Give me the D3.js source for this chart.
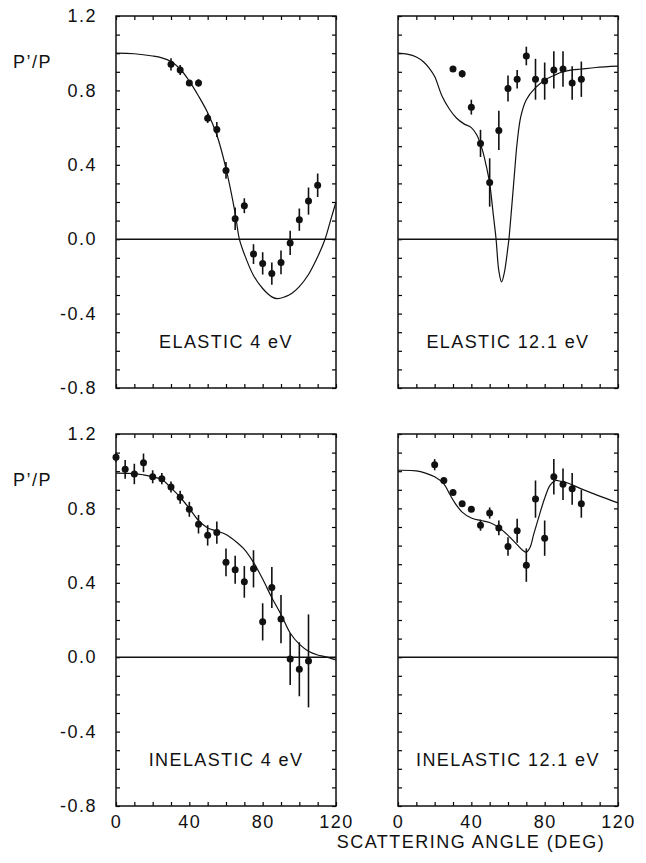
<!DOCTYPE html>
<html>
<head>
<meta charset="utf-8">
<script src="https://cdn.jsdelivr.net/npm/d3@7"></script>
<style>
  body { margin: 0; background: #fff; }
  text { font-family: "Liberation Sans", Arial, sans-serif; fill: #111; }
</style>
</head>
<body>
<div id="container"></div>
<script>

// Elastic 4 eV: measured points and theory curve
const el4Angle = [30, 35, 40, 45, 50, 55, 60, 65, 70, 75, 80, 85, 90, 95, 100, 105, 110];
const el4Value = [0.94, 0.91, 0.84, 0.84, 0.65, 0.59, 0.37, 0.11, 0.18, -0.08, -0.13, -0.185, -0.125, -0.02, 0.105, 0.205, 0.29];
const el4Error = [0.033, 0.027, 0.015, 0.02, 0.025, 0.04, 0.045, 0.06, 0.04, 0.053, 0.06, 0.06, 0.064, 0.065, 0.06, 0.073, 0.063];
const el4CurveAngle = [0, 10, 20, 25, 30, 35, 40, 45, 50, 55, 60, 65, 67.3, 70, 75, 80, 85, 88, 92, 96, 100, 105, 110, 114, 117, 120];
const el4CurveValue = [1.0, 0.997, 0.985, 0.975, 0.955, 0.915, 0.85, 0.77, 0.68, 0.56, 0.38, 0.14, 0, -0.08, -0.195, -0.265, -0.31, -0.32, -0.31, -0.29, -0.255, -0.19, -0.095, 0, 0.1, 0.2];

// Elastic 12.1 eV
const el12Angle = [30, 35, 40, 45, 50, 55, 60, 65, 70, 75, 80, 85, 90, 95, 100];
const el12Value = [0.915, 0.89, 0.71, 0.515, 0.305, 0.585, 0.81, 0.86, 0.985, 0.86, 0.85, 0.91, 0.915, 0.84, 0.86];
const el12Error = [0.015, 0.02, 0.04, 0.073, 0.13, 0.105, 0.07, 0.05, 0.05, 0.11, 0.1, 0.1, 0.095, 0.09, 0.095];
const el12CurveAngle = [0, 5, 10, 14, 17, 20, 24, 28, 32, 36, 40, 43, 46, 48, 50, 52, 53.5, 55, 56.5, 58, 60, 60.5, 62, 63.5, 65, 67, 70, 75, 80, 85, 90, 95, 100, 108, 120];
const el12CurveValue = [1.0, 0.995, 0.98, 0.953, 0.92, 0.875, 0.77, 0.7, 0.65, 0.62, 0.6, 0.56, 0.48, 0.4, 0.3, 0.13, 0, -0.17, -0.23, -0.18, -0.04, 0, 0.17, 0.35, 0.52, 0.66, 0.75, 0.815, 0.855, 0.88, 0.9, 0.91, 0.915, 0.923, 0.93];

// Inelastic 4 eV
const in4Angle = [0, 5, 10, 15, 20, 25, 30, 35, 40, 45, 50, 55, 60, 65, 70, 75, 80, 85, 90, 95, 100, 105];
const in4Value = [1.075, 1.01, 0.985, 1.045, 0.97, 0.96, 0.915, 0.86, 0.795, 0.715, 0.655, 0.67, 0.51, 0.47, 0.405, 0.475, 0.19, 0.375, 0.205, -0.01, -0.065, -0.02];
const in4Error = [0.025, 0.05, 0.055, 0.05, 0.035, 0.03, 0.03, 0.035, 0.04, 0.05, 0.055, 0.06, 0.075, 0.075, 0.085, 0.1, 0.1, 0.11, 0.13, 0.14, 0.145, 0.25];
const in4CurveAngle = [0, 10, 15, 20, 25, 30, 35, 40, 45, 50, 55, 60, 65, 70, 75, 80, 85, 90, 95, 100, 105, 110, 114, 120];
const in4CurveValue = [0.99, 0.987, 0.98, 0.97, 0.955, 0.91, 0.86, 0.8, 0.735, 0.695, 0.678, 0.66, 0.625, 0.58, 0.51, 0.42, 0.32, 0.23, 0.13, 0.07, 0.032, 0.012, 0.003, -0.015];

// Inelastic 12.1 eV
const in12Angle = [20, 25, 30, 35, 40, 45, 50, 55, 60, 65, 70, 75, 80, 85, 90, 95, 100];
const in12Value = [1.035, 0.95, 0.885, 0.825, 0.795, 0.71, 0.775, 0.695, 0.595, 0.68, 0.495, 0.85, 0.64, 0.97, 0.93, 0.905, 0.825];
const in12Error = [0.03, 0.015, 0.015, 0.015, 0.015, 0.03, 0.03, 0.04, 0.05, 0.065, 0.09, 0.1, 0.095, 0.095, 0.085, 0.085, 0.075];
const in12CurveAngle = [0, 10, 15, 20, 25, 28, 31, 35, 40, 45, 50, 55, 60, 65, 68, 70, 72, 74, 77, 80, 83, 86, 89, 93, 100, 110, 120];
const in12CurveValue = [1.005, 1.002, 0.99, 0.97, 0.932, 0.88, 0.83, 0.78, 0.748, 0.735, 0.724, 0.697, 0.655, 0.605, 0.575, 0.565, 0.59, 0.66, 0.76, 0.855, 0.925, 0.95, 0.945, 0.935, 0.905, 0.866, 0.83];

// Tick labels
const xTickLabels = [0, 40, 80, 120];
const yTickLabels = [-0.8, -0.4, 0.0, 0.4, 0.8, 1.2];
const xMinorTicks = d3.range(0, 121, 10);
const yMinorTicks = d3.range(-8, 13).map(i => i / 10);

const panelLabels = ["ELASTIC 4 eV", "ELASTIC 12.1 eV", "INELASTIC 4 eV", "INELASTIC 12.1 eV"];

// Declare the container size.
const width = 646;
const height = 863;

// Panel frames
const colLeft = [116, 398];
const rowTop = [16, 434];
const panelWidth = 220;
const panelHeight = 372;

const panels = [
  {label: panelLabels[0], angle: el4Angle, value: el4Value, error: el4Error, cAngle: el4CurveAngle, cValue: el4CurveValue, col: 0, row: 0},
  {label: panelLabels[1], angle: el12Angle, value: el12Value, error: el12Error, cAngle: el12CurveAngle, cValue: el12CurveValue, col: 1, row: 0},
  {label: panelLabels[2], angle: in4Angle, value: in4Value, error: in4Error, cAngle: in4CurveAngle, cValue: in4CurveValue, col: 0, row: 1},
  {label: panelLabels[3], angle: in12Angle, value: in12Value, error: in12Error, cAngle: in12CurveAngle, cValue: in12CurveValue, col: 1, row: 1}
];

// Create the SVG container.
const svg = d3.create("svg")
    .attr("width", width)
    .attr("height", height);

document.getElementById("container").append(svg.node());

const hasLabel = (list, d) => list.some(v => Math.abs(v - d) < 1e-9);

panels.forEach(p => {
  const left = colLeft[p.col];
  const top = rowTop[p.row];

  const x = d3.scaleLinear()
      .domain([0, 120])
      .range([left, left + panelWidth]);

  const y = d3.scaleLinear()
      .domain([-0.8, 1.2])
      .range([top + panelHeight, top]);

  // Bottom axis (labels only on the lower row)
  svg.append("g")
      .attr("transform", `translate(0,${top + panelHeight})`)
      .call(d3.axisBottom(x).tickValues(xMinorTicks).tickSize(-4).tickSizeOuter(0).tickPadding(9)
        .tickFormat(d => (p.row === 1 && hasLabel(xTickLabels, d)) ? d : ""))
      .attr("font-size", 18)
      .call(g => g.select(".domain").remove());

  // Top axis
  svg.append("g")
      .attr("transform", `translate(0,${top})`)
      .call(d3.axisTop(x).tickValues(xMinorTicks).tickSize(-4).tickSizeOuter(0).tickFormat(""))
      .call(g => g.select(".domain").remove());

  // Left axis (labels only in left column)
  svg.append("g")
      .attr("transform", `translate(${left},0)`)
      .call(d3.axisLeft(y).tickValues(yMinorTicks).tickSize(-4).tickSizeOuter(0).tickPadding(19)
        .tickFormat(d => (p.col === 0 && hasLabel(yTickLabels, d)) ? d.toFixed(1) : ""))
      .attr("font-size", 18)
      .call(g => g.select(".domain").remove());

  // Right axis
  svg.append("g")
      .attr("transform", `translate(${left + panelWidth},0)`)
      .call(d3.axisRight(y).tickValues(yMinorTicks).tickSize(-4).tickSizeOuter(0).tickFormat(""))
      .call(g => g.select(".domain").remove());

  svg.selectAll(".tick line").attr("stroke-width", 1.2);
  svg.selectAll(".tick text").style("letter-spacing", "1.5px");

  // Frame
  svg.append("rect")
      .attr("x", x(0))
      .attr("y", y(1.2))
      .attr("width", x(120) - x(0))
      .attr("height", y(-0.8) - y(1.2))
      .attr("fill", "none")
      .attr("stroke", "#111")
      .attr("stroke-width", 1.5);

  // Zero line
  svg.append("line")
      .attr("x1", x(0))
      .attr("x2", x(120))
      .attr("y1", y(0))
      .attr("y2", y(0))
      .attr("stroke", "#111")
      .attr("stroke-width", 1.5);

  // Theory curve
  const line = d3.line()
      .x(i => x(p.cAngle[i]))
      .y(i => y(p.cValue[i]))
      .curve(d3.curveCatmullRom.alpha(0.5));

  svg.append("path")
      .attr("d", line(d3.range(p.cAngle.length)))
      .attr("fill", "none")
      .attr("stroke", "#111")
      .attr("stroke-width", 1.2);

  // Error bars
  svg.append("g")
    .selectAll("line")
    .data(d3.range(p.angle.length))
    .join("line")
      .attr("x1", i => x(p.angle[i]))
      .attr("x2", i => x(p.angle[i]))
      .attr("y1", i => y(p.value[i] - p.error[i]))
      .attr("y2", i => y(p.value[i] + p.error[i]))
      .attr("stroke", "#111")
      .attr("stroke-width", 1.6);

  // Data points
  svg.append("g")
    .selectAll("circle")
    .data(d3.range(p.angle.length))
    .join("circle")
      .attr("cx", i => x(p.angle[i]))
      .attr("cy", i => y(p.value[i]))
      .attr("r", 3.5)
      .attr("fill", "#111");

  // Panel label
  svg.append("text")
      .attr("text-anchor", "middle")
      .attr("x", (x(0) + x(120)) / 2)
      .attr("y", y(-0.8) - 40)
      .attr("font-size", 18)
      .style("letter-spacing", "1.4px")
      .text(p.label);

  // Y axis label
  if (p.col === 0) {
    svg.append("text")
        .attr("text-anchor", "start")
        .attr("x", 13)
        .attr("y", top + 52)
        .attr("font-size", 18)
        .style("letter-spacing", "1.5px")
        .text("P’/P");
  }
});

// X axis title
svg.append("text")
    .attr("text-anchor", "middle")
    .attr("x", 471)
    .attr("y", 848)
    .attr("font-size", 18)
    .style("letter-spacing", "1.5px")
    .text("SCATTERING ANGLE (DEG)");

</script>
</body>
</html>
